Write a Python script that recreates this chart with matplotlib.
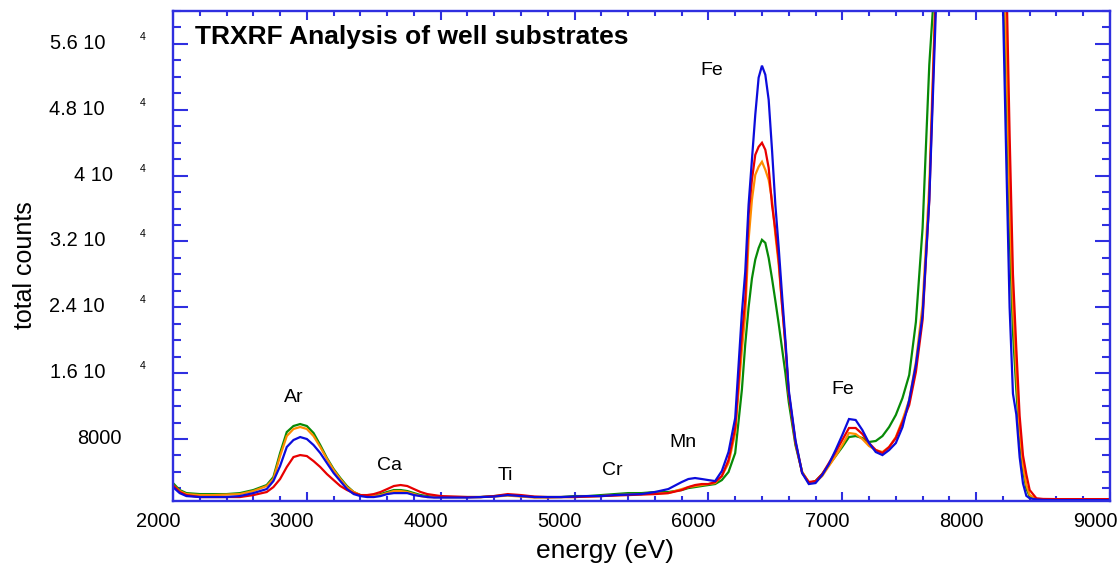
import matplotlib
matplotlib.use("Agg")
import matplotlib.pyplot as plt
from matplotlib import transforms
from matplotlib.ticker import MultipleLocator

plt.rcParams['font.family'] = ['Liberation Sans', 'DejaVu Sans']

# ---- spectra (energy in eV, total counts) ----
energy = [2000, 2050, 2100, 2200, 2300, 2400, 2500, 2600, 2700, 2750, 2800, 2850, 2900,
          2950, 3000, 3050, 3100, 3150, 3200, 3250, 3300, 3350, 3400, 3450, 3500, 3550,
          3600, 3650, 3700, 3750, 3800, 3850, 3900, 3950, 4000, 4100, 4200, 4300, 4400,
          4500, 4600, 4700, 4800, 4900, 5000, 5100, 5200, 5300, 5400, 5500, 5600, 5700,
          5800, 5850, 5900, 5950, 6000, 6050, 6100, 6150, 6200, 6250, 6275, 6300, 6325,
          6350, 6375, 6400, 6425, 6450, 6475, 6500, 6525, 6550, 6575, 6600, 6650, 6700,
          6750, 6800, 6850, 6900, 6950, 7000, 7050, 7100, 7150, 7200, 7250, 7300, 7350,
          7400, 7450, 7500, 7550, 7600, 7650, 7700, 7750, 8000, 8200, 8225, 8250, 8275,
          8300, 8325, 8350, 8375, 8400, 8450, 8500, 8600, 8800, 9000]

green_counts = [2650, 1800, 1430, 1310, 1310, 1310, 1430, 1800, 2410, 3380, 6300, 8850, 9580,
                9820, 9580, 8730, 7270, 5690, 4350, 3260, 2280, 1560, 1190, 1070, 1070, 1310,
                1560, 1800, 1800, 1680, 1430, 1190, 1070, 950, 950, 950, 950, 950, 1070,
                1190, 1070, 950, 950, 950, 1070, 1070, 1190, 1310, 1430, 1430, 1560, 1560,
                1800, 2040, 2160, 2290, 2410, 2530, 3010, 3990, 6300, 14000, 19500, 24000, 27500,
                29800, 31200, 32200, 31830, 30000, 27500, 24800, 22000, 19000, 16000, 12500, 7270, 3990,
                2650, 2890, 3740, 4840, 5930, 7030, 8240, 8360, 8120, 7640, 7760, 8360, 9460,
                10920, 12990, 15780, 22230, 33660, 53480, 66000, 85000, 100000, 66000, 52000, 33000, 21000,
                14000, 8000, 4200, 2000, 1000, 650, 600, 600, 600, 600]

orange_counts = [2410, 1680, 1310, 1190, 1190, 1250, 1310, 1680, 2290, 3140, 5930, 8360, 9220,
                 9460, 9220, 8360, 7030, 5570, 4230, 3140, 2160, 1560, 1190, 1070, 1070, 1190,
                 1430, 1680, 1680, 1560, 1310, 1070, 950, 950, 950, 950, 950, 950, 1010,
                 1130, 1010, 890, 890, 950, 950, 1010, 1070, 1190, 1250, 1310, 1370, 1430,
                 1920, 2160, 2290, 2410, 2530, 2650, 3500, 5080, 8730, 18820, 23080, 32200, 37060,
                 40100, 41070, 41680, 40710, 39490, 37060, 32810, 29160, 24290, 19430, 13590, 7640, 3990,
                 2770, 2770, 3500, 4720, 5930, 7270, 8730, 8610, 8000, 7150, 6660, 6420, 7030,
                 8240, 10310, 12740, 17360, 24290, 38890, 64000, 85000, 100000, 68000, 56000, 37000, 24000,
                 16000, 9000, 4800, 2400, 1200, 700, 650, 620, 620, 620]

red_counts = [2410, 1560, 1190, 950, 950, 950, 950, 1190, 1560, 2160, 3140, 4600, 5810,
              6050, 5930, 5320, 4600, 3740, 3010, 2290, 1800, 1430, 1190, 1190, 1310, 1560,
              1920, 2290, 2410, 2290, 1920, 1560, 1310, 1190, 1070, 1010, 950, 950, 1070,
              1310, 1190, 1010, 950, 950, 950, 1010, 1070, 1130, 1190, 1250, 1310, 1430,
              1800, 2160, 2410, 2530, 2530, 2770, 3500, 5450, 9340, 20650, 24900, 35240, 39490,
              42530, 43500, 43990, 43140, 40950, 36450, 33410, 29770, 24290, 19430, 13590, 7640, 3870,
              2770, 2890, 3740, 5080, 6420, 7880, 9340, 9340, 8610, 7510, 6660, 6300, 7030,
              8120, 10070, 12130, 16150, 22470, 37060, 63000, 85000, 100000, 72000, 65000, 45000, 28000,
              19000, 10800, 6000, 3700, 1800, 800, 720, 700, 700, 700]

blue_counts = [2160, 1430, 1070, 950, 950, 950, 1070, 1430, 1920, 2890, 4720, 7030, 7880,
               8240, 8000, 7270, 6300, 5080, 3870, 2890, 1920, 1310, 1070, 950, 950, 1070,
               1310, 1430, 1430, 1430, 1190, 1070, 950, 890, 890, 890, 890, 950, 1010,
               1190, 1070, 950, 950, 950, 1010, 1070, 1070, 1190, 1250, 1310, 1560, 1920,
               2770, 3140, 3260, 3140, 3010, 2890, 4110, 6420, 10550, 23320, 28310, 36450, 41930,
               47400, 51900, 53360, 52260, 49220, 43140, 36450, 31230, 25510, 20040, 13960, 7880, 3870,
               2530, 2650, 3620, 4960, 6660, 8490, 10430, 10310, 9090, 7510, 6420, 6050, 6660,
               7510, 9460, 12740, 17000, 23080, 37060, 60500, 80000, 100000, 61000, 42000, 24000, 13500,
               11000, 5800, 2600, 1100, 800, 650, 600, 580, 580, 580]

# ---- axis ticks and element labels ----
x_ticks = [2000, 3000, 4000, 5000, 6000, 7000, 8000, 9000]
x_tick_labels = ['2000', '3000', '4000', '5000', '6000', '7000', '8000', '9000']
y_ticks = [8000, 16000, 24000, 32000, 40000, 48000, 56000]
y_tick_mantissa = ['8000', '1.6 10', '2.4 10', '3.2 10', '4 10', '4.8 10', '5.6 10']
y_tick_exponent = ['', '4', '4', '4', '4', '4', '4']

peak_names = ['Ar', 'Ca', 'Ti', 'Cr', 'Mn', 'Fe', 'Fe']
peak_label_energy = [2899, 3619, 4481, 5284, 5806, 6022, 7007]
peak_label_counts = [12500, 4230, 3014, 3622, 7027, 52260, 13470]

W, H = 1118, 567
fig = plt.figure(figsize=(W / 100, H / 100), dpi=100)
ax = fig.add_axes([173 / W, 66 / H, 937 / W, 490 / H])

frame_color = '#2f2fe0'
series = [
    (green_counts, '#078a07'),
    (orange_counts, '#ff8c00'),
    (red_counts, '#e80000'),
    (blue_counts, '#0c0cdc'),
]
for counts, col in series:
    ax.plot(energy, counts, color=col, lw=1.6, solid_joinstyle='miter')

ax.set_xlim(2000, 9000)
ax.set_ylim(470, 60000)

ax.xaxis.set_major_locator(MultipleLocator(1000))
ax.xaxis.set_minor_locator(MultipleLocator(200))
ax.yaxis.set_major_locator(MultipleLocator(8000))
ax.yaxis.set_minor_locator(MultipleLocator(2000))

for sp in ax.spines.values():
    sp.set_color(frame_color)
    sp.set_linewidth(1.7)

ax.tick_params(which='both', direction='in', top=True, right=True, color=frame_color,
               width=1.5, labelleft=False, labelbottom=False)
ax.tick_params(axis='x', which='major', length=6.5)
ax.tick_params(axis='x', which='minor', length=3.6)
ax.tick_params(axis='y', which='major', length=10.8)
ax.tick_params(axis='y', which='minor', length=5.8)

# x tick labels, set slightly left of their ticks
xtrans = transforms.offset_copy(
    transforms.blended_transform_factory(ax.transData, ax.transAxes),
    fig=fig, x=-15, y=-26, units='dots')
for v, lab in zip(x_ticks, x_tick_labels):
    ax.text(v, 0, lab, transform=xtrans, ha='center', va='baseline', fontsize=14.4,
            clip_on=False)

# y tick labels written as "m 10" with a raised exponent
ylab_right = [122, 105, 105, 105, 113, 105, 105]
ybase = transforms.blended_transform_factory(fig.transFigure, ax.transData)
ymain = transforms.offset_copy(ybase, fig=fig, x=0, y=-5, units='dots')
yexp = transforms.offset_copy(ybase, fig=fig, x=0, y=4, units='dots')
for v, m, e, r in zip(y_ticks, y_tick_mantissa, y_tick_exponent, ylab_right):
    fig.text(r / W, v, m, transform=ymain, ha='right', va='baseline', fontsize=14.4)
    if e:
        fig.text(140 / W, v, e, transform=yexp, ha='left', va='baseline', fontsize=7.7)

for name, e, c in zip(peak_names, peak_label_energy, peak_label_counts):
    ax.text(e, c, name, ha='center', va='baseline', fontsize=14)

ax.text(0.0235, 0.9327, 'TRXRF Analysis of well substrates', transform=ax.transAxes,
        ha='left', va='baseline', fontsize=19, fontweight='bold')

fig.text(605 / W, 1 - 558 / H, 'energy (eV)', ha='center', va='baseline', fontsize=19)
fig.text(25 / W, 1 - 265 / H, 'total counts', ha='center', va='center', rotation=90,
         fontsize=18)

fig.savefig('out.png', dpi=100)
